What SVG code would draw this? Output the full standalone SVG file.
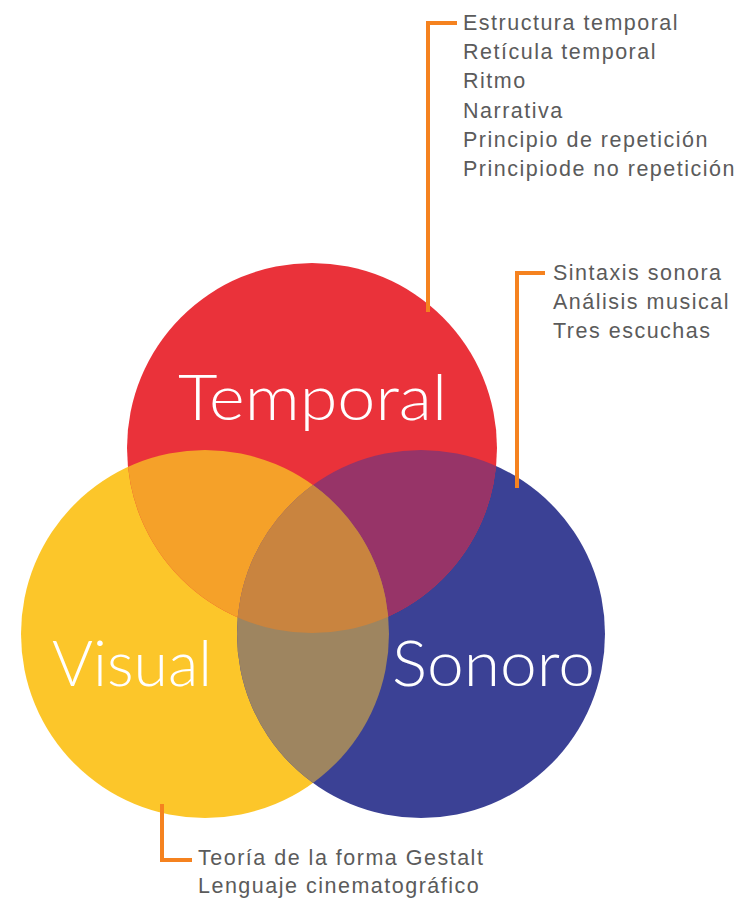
<svg xmlns="http://www.w3.org/2000/svg" width="741" height="898" viewBox="0 0 741 898">
<style>
.lbl{font-family:"Liberation Sans",Arial,sans-serif;font-size:21.5px;fill:#5b5b5b;letter-spacing:1.5px}
.big{font-family:Lato,"Open Sans","DejaVu Sans",sans-serif;font-weight:300;font-size:64px;fill:#ffffff}
.br{fill:none;stroke:#F5821F;stroke-width:4}
</style>
<defs>
<clipPath id="cR"><circle cx="312" cy="448" r="185"/></clipPath>
<clipPath id="cY"><circle cx="205" cy="634" r="184"/></clipPath>
<clipPath id="cB"><circle cx="421" cy="634" r="184"/></clipPath>
</defs>
<rect width="741" height="898" fill="#ffffff"/>
<g id="visual">
<circle cx="205" cy="634" r="184" fill="#FCC62A"/>
</g>
<g id="sonoro">
<circle cx="421" cy="634" r="184" fill="#3B4195"/>
</g>
<g id="temporal">
<circle cx="312" cy="448" r="185" fill="#EA323A"/>
</g>
<g id="overlaps">
<circle cx="312" cy="448" r="185" fill="#F5A129" clip-path="url(#cY)"/>
<circle cx="312" cy="448" r="185" fill="#973468" clip-path="url(#cB)"/>
<circle cx="205" cy="634" r="184" fill="#9E8560" clip-path="url(#cB)"/>
<g clip-path="url(#cB)"><circle cx="312" cy="448" r="185" fill="#C9843F" clip-path="url(#cY)"/></g>
</g>
<g id="titles">
<text class="big" x="178" y="420" textLength="269" lengthAdjust="spacingAndGlyphs">Temporal</text>
<text class="big" x="52" y="686" textLength="160" lengthAdjust="spacingAndGlyphs">Visual</text>
<text class="big" x="392" y="686" textLength="203" lengthAdjust="spacingAndGlyphs">Sonoro</text>
</g>
<g id="connectors">
<polyline class="br" points="457,23 428,23 428,312"/>
<polyline class="br" points="545,273 517,273 517,488"/>
<polyline class="br" points="162,804 162,860 192,860"/>
</g>
<g id="temporal-notes">
<text class="lbl" x="463" y="30">Estructura temporal</text>
<text class="lbl" x="463" y="59">Retícula temporal</text>
<text class="lbl" x="463" y="88">Ritmo</text>
<text class="lbl" x="463" y="118">Narrativa</text>
<text class="lbl" x="463" y="147">Principio de repetición</text>
<text class="lbl" x="463" y="176">Principiode no repetición</text>
</g>
<g id="sonoro-notes">
<text class="lbl" x="553" y="280">Sintaxis sonora</text>
<text class="lbl" x="553" y="309">Análisis musical</text>
<text class="lbl" x="553" y="338">Tres escuchas</text>
</g>
<g id="visual-notes">
<text class="lbl" x="198" y="865">Teoría de la forma Gestalt</text>
<text class="lbl" x="198" y="893">Lenguaje cinematográfico</text>
</g>
</svg>
